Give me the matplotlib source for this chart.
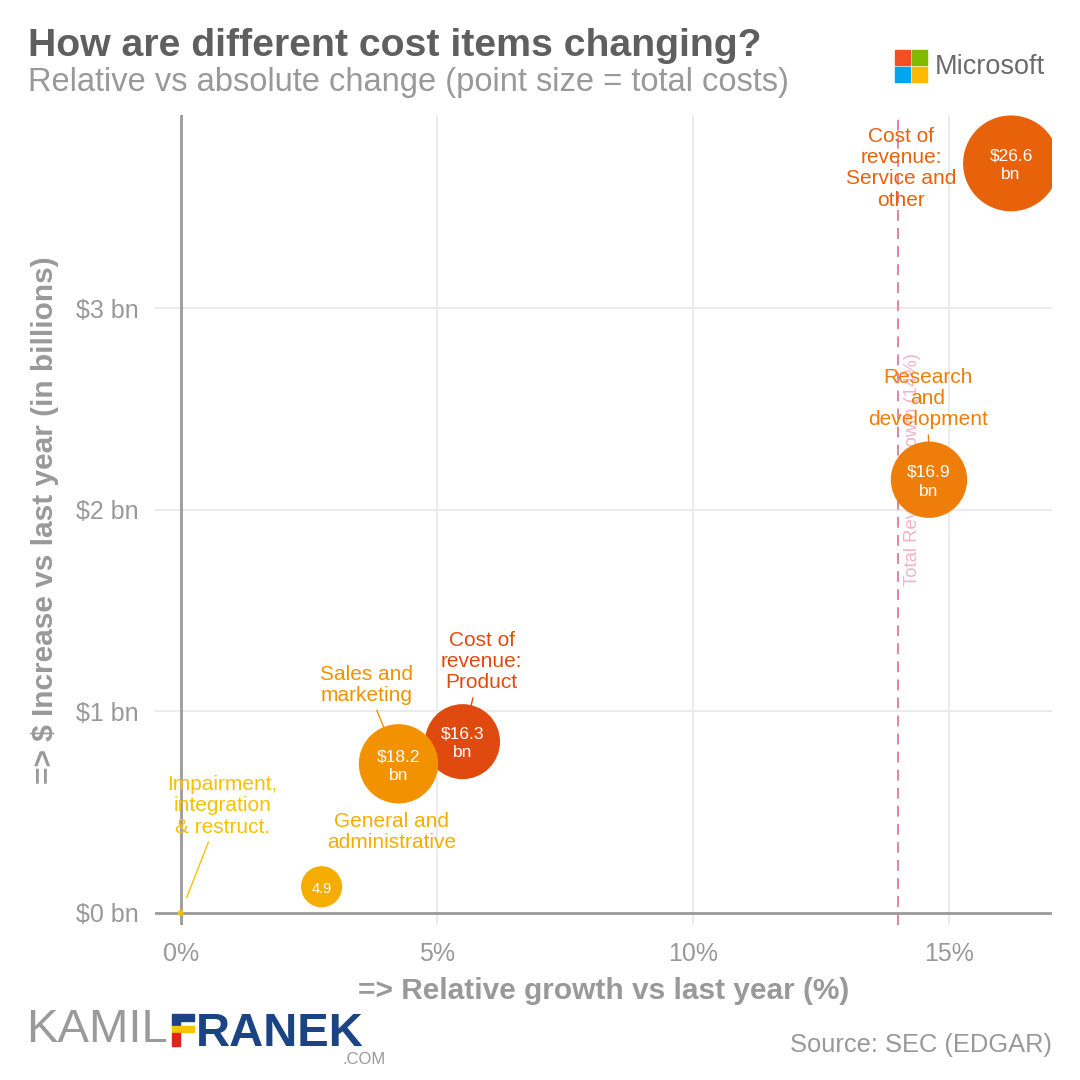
import matplotlib.pyplot as plt
from matplotlib.patches import Rectangle

plt.rcParams['font.family'] = ['Liberation Sans', 'DejaVu Sans']

# data
items = ['Cost of\nrevenue:\nService and\nother', 'Research\nand\ndevelopment',
         'Cost of\nrevenue:\nProduct', 'Sales and\nmarketing',
         'General and\nadministrative', 'Impairment,\nintegration\n& restruct.']
growth_pct = [16.2, 14.6, 5.5, 4.25, 2.75, 0.0]
increase_bn = [3.72, 2.15, 0.85, 0.74, 0.13, 0.0]
total_bn = [26.6, 16.9, 16.3, 18.2, 4.9, 0.1]
inner_text = ['$26.6\nbn', '$16.9\nbn', '$16.3\nbn', '$18.2\nbn', '4.9', '']
revenue_growth = 14.0

colors = ['#E8620C', '#EE7D0A', '#E04A0F', '#F29200', '#F5AE00', '#F7C000']
# label offsets in pixels (dx, dy) and whether a connector line is drawn
offsets = [(-110, -5, False), (-1, 81, True), (19, 80, True),
           (-32, 79, True), (70, 55, False), (42, 107, True)]

W = 1080.0


def rect(x0, y0, x1, y1, c):
    # rectangle in figure pixels measured from the top-left corner
    fig.patches.append(Rectangle((x0/W, 1 - y1/W), (x1 - x0)/W, (y1 - y0)/W,
                                 color=c, transform=fig.transFigure, figure=fig))


fig = plt.figure(figsize=(10.8, 10.8), dpi=100)
ax = fig.add_axes([155/W, 155/W, 897/W, 810/W])

ax.set_xlim(-0.5, 17)
ax.set_ylim(-0.06, 3.96)

for v in [5, 10, 15]:
    ax.axvline(v, color='#ebebeb', lw=1.5, zorder=0)
for v in [1, 2, 3]:
    ax.axhline(v, color='#ebebeb', lw=1.5, zorder=0)
ax.axvline(0, color='#9a9a9a', lw=2, zorder=1)
ax.axhline(0, color='#9a9a9a', lw=2, zorder=1)

ax.axvline(revenue_growth, color='#E07A9A', lw=1.3, ls=(0, (6, 4)), zorder=1)
ax.text(revenue_growth + 0.27, 2.2, 'Total Revenue growth (14%)', rotation=90,
        color='#F2B3C6', fontsize=13.3, ha='center', va='center', zorder=1)

k = 179.0
sizes = [k * t for t in total_bn]
ax.scatter(growth_pct, increase_bn, s=sizes, c=colors, edgecolors='none', zorder=3)

for i in range(len(items)):
    fs = 12.5 if total_bn[i] > 10 else 10.5
    ax.text(growth_pct[i], increase_bn[i] - 0.01, inner_text[i], color='white',
            fontsize=fs, ha='center', va='center', linespacing=1.3, zorder=4)
    dx, dy, line = offsets[i]
    r_pt = (sizes[i] ** 0.5) / 2
    props = None
    if line:
        props = dict(arrowstyle='-', color=colors[i], lw=1, shrinkA=2,
                     shrinkB=max(r_pt * 0.85, 12))
    ax.annotate(items[i], (growth_pct[i], increase_bn[i]),
                xytext=(dx * 0.72, dy * 0.72), textcoords='offset points',
                ha='center', va='center', color=colors[i], fontsize=15,
                linespacing=1.15, arrowprops=props, zorder=5)

ax.set_xticks([0, 5, 10, 15])
ax.set_xticklabels(['0%', '5%', '10%', '15%'])
ax.set_yticks([0, 1, 2, 3])
ax.set_yticklabels(['$0 bn', '$1 bn', '$2 bn', '$3 bn'])
ax.tick_params(length=0, labelsize=18, labelcolor='#999999', pad=12)
for s in ax.spines.values():
    s.set_visible(False)

ax.set_xlabel('=> Relative growth vs last year (%)', fontsize=21.5, fontweight='bold',
              color='#999999', labelpad=8)
ax.set_ylabel('=> $ Increase vs last year (in billions)', fontsize=21.5, fontweight='bold',
              color='#999999', labelpad=12)

fig.text(28/W, 1 - 46/W, 'How are different cost items changing?', fontsize=28.3,
         fontweight='bold', color='#5f5f5f', va='center')
fig.text(28/W, 1 - 83/W, 'Relative vs absolute change (point size = total costs)',
         fontsize=23.5, color='#999999', va='center')

# Microsoft logo
rect(895, 50, 910, 65, '#F25022')
rect(912, 50, 927, 65, '#7FBA00')
rect(895, 67, 910, 82, '#00A4EF')
rect(912, 67, 927, 82, '#FFB900')
fig.text(935/W, 1 - 67/W, 'Microsoft', fontsize=19.5, color='#6b6b6b', va='center')

# KAMIL FRANEK logo
fig.text(26/W, 1 - 1030/W, 'KAMIL', fontsize=34, color='#9a9a9a', va='center')
rect(172, 1014, 194, 1021, '#1B4582')
rect(172, 1021, 180, 1026, '#1B4582')
rect(172, 1026, 194, 1032, '#F6C400')
rect(172, 1033, 180, 1046, '#E2231A')
fig.text(196/W, 1 - 1046/W, 'RANEK', fontsize=34, color='#1B4582',
         fontweight='bold', va='baseline')
fig.text(342/W, 1 - 1059/W, '.COM', fontsize=12, color='#9a9a9a', va='center')

fig.text(1052/W, 1 - 1045/W, 'Source: SEC (EDGAR)', fontsize=18.4, color='#999999',
         ha='right', va='center')

fig.savefig('out.png', dpi=100, facecolor='white')
